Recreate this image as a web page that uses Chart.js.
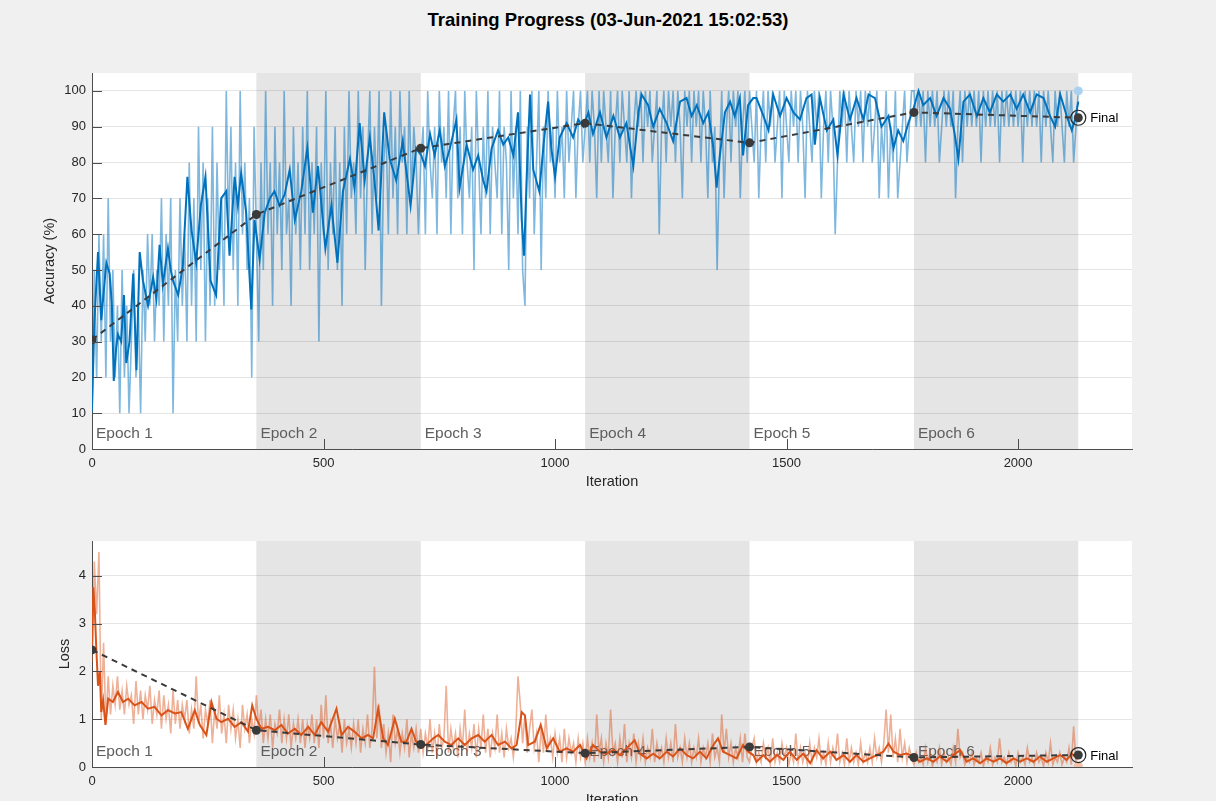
<!DOCTYPE html>
<html>
<head>
<meta charset="utf-8">
<script src="https://cdn.jsdelivr.net/npm/chart.js@4.4.0/dist/chart.umd.min.js"></script>
<style>
  html, body { margin: 0; padding: 0; background: #f0f0f0; overflow: hidden; }
  body { width: 1216px; height: 801px; position: relative; font-family: "Liberation Sans", Arial, sans-serif; }
  #titulo { position: absolute; top: 9px; left: 0; width: 1216px; text-align: center; font-weight: bold; font-size: 18.5px; color: #000; }
  .quadro { position: absolute; left: 0; }
  #quadroAcc { top: 0; }
  #quadroLoss { top: 500px; }
</style>
</head>
<body>
<div id="titulo">Training Progress (03-Jun-2021 15:02:53)</div>
<div class="quadro" id="quadroAcc"><canvas id="graficoAcuracia" width="1216" height="500"></canvas></div>
<div class="quadro" id="quadroLoss"><canvas id="graficoPerda" width="1216" height="309"></canvas></div>

<script>
// dados
const passoBruto = 5; // um valor bruto a cada 5 iteracoes
const epocasNomes = ['Epoch 1', 'Epoch 2', 'Epoch 3', 'Epoch 4', 'Epoch 5', 'Epoch 6'];
const valIter = [0, 355, 710, 1065, 1420, 1775, 2130]; // inicio das epocas + final
const valAcc = [30.5, 65.5, 84, 91, 85.5, 94, 92.5];
const valLoss = [2.45, 0.77, 0.47, 0.29, 0.42, 0.2, 0.25];

const xTicks = [0, 500, 1000, 1500, 2000];
const accTicks = [0, 10, 20, 30, 40, 50, 60, 70, 80, 90, 100];
const lossTicks = [0, 1, 2, 3, 4];

// acuracia bruta (mini-batch), por epoca
const accBruta = [
  10, 50, 20, 60, 30, 60, 20, 70, 30, 50, 20, 40, 10, 50, 20, 40, 10, 30, 50, 20, 40, 10, 50, 30, 60, 40, 60, 30, 50, 40, 70, 30, 60, 40, 70, 10, 50, 30, 70, 40, 60, 30, 80, 40, 70, 30, 90, 50, 80, 30, 70, 40, 90, 40, 80, 50, 70, 40, 100, 60, 90, 50, 80, 40, 100, 60, 80, 50, 70, 20, 90,
  60, 30, 80, 50, 100, 60, 80, 40, 90, 60, 80, 50, 100, 60, 70, 40, 90, 60, 80, 50, 90, 60, 100, 50, 80, 60, 90, 30, 80, 60, 100, 50, 80, 60, 90, 50, 80, 40, 90, 60, 100, 70, 80, 60, 100, 70, 90, 50, 80, 100, 60, 90, 70, 100, 40, 80, 90, 60, 100, 70, 90, 60, 100, 80, 90, 60, 100, 70, 90, 80, 60,
  80, 90, 60, 100, 80, 70, 90, 60, 100, 80, 90, 70, 100, 60, 90, 100, 70, 90, 60, 100, 80, 70, 90, 50, 100, 80, 60, 90, 70, 100, 60, 90, 80, 70, 100, 60, 90, 80, 50, 100, 70, 90, 60, 100, 50, 40, 90, 70, 100, 60, 80, 100, 50, 90, 70, 100, 80, 90, 70, 100, 80, 90, 70, 100, 80, 90, 100, 70, 90, 100, 80,
  90, 100, 80, 100, 90, 70, 100, 80, 100, 90, 80, 100, 70, 90, 100, 80, 100, 90, 80, 100, 70, 90, 100, 90, 100, 80, 100, 90, 100, 80, 90, 100, 60, 90, 100, 80, 100, 90, 100, 80, 100, 90, 70, 100, 90, 100, 80, 100, 90, 100, 80, 100, 90, 70, 100, 80, 90, 50, 80, 100, 70, 90, 100, 80, 100, 90, 100, 70, 90, 100, 80,
  100, 90, 80, 100, 70, 90, 100, 80, 100, 90, 100, 80, 90, 100, 70, 100, 90, 80, 100, 90, 100, 80, 100, 90, 70, 100, 90, 80, 100, 90, 100, 70, 90, 100, 80, 100, 90, 60, 80, 100, 90, 100, 80, 100, 90, 80, 100, 90, 100, 80, 100, 90, 100, 80, 90, 100, 70, 90, 80, 100, 70, 90, 80, 100, 70, 80, 90, 100, 80, 90, 100,
  100, 90, 100, 90, 100, 80, 100, 90, 100, 90, 100, 80, 90, 100, 90, 100, 90, 100, 70, 90, 100, 80, 100, 90, 100, 90, 100, 90, 100, 80, 100, 90, 100, 90, 100, 90, 100, 80, 100, 90, 100, 90, 100, 90, 100, 90, 100, 80, 100, 90, 100, 90, 100, 90, 100, 80, 100, 90, 100, 90, 80, 100, 90, 100, 90, 80, 100, 90, 100, 80, 90,
  100
];

// perda bruta, por epoca
const lossBruta = [
  2.2, 4.3, 3.2, 4.5, 1.0, 2.6, 0.9, 1.9, 1.1, 1.7, 1.3, 1.9, 1.2, 1.6, 1.1, 1.7, 1.3, 1.5, 0.9, 1.8, 1.1, 1.6, 1.0, 1.5, 1.2, 1.7, 0.9, 1.4, 1.1, 1.6, 0.8, 1.5, 1.0, 1.3, 0.7, 1.6, 0.9, 1.4, 0.8, 1.3, 1.0, 1.4, 0.7, 1.2, 0.8, 1.9, 0.9, 1.3, 0.6, 1.2, 0.9, 1.4, 0.5, 1.2, 0.8, 1.5, 0.7, 1.1, 0.5, 1.3, 0.8, 1.2, 0.6, 1.0, 0.4, 1.3, 0.8, 1.1, 0.5, 1.0, 0.7,
  1.5, 0.8, 1.2, 0.5, 1.0, 0.6, 1.1, 0.4, 0.9, 0.7, 1.2, 0.5, 1.0, 0.6, 1.1, 0.4, 0.9, 0.6, 1.0, 0.5, 1.0, 0.4, 0.9, 0.6, 1.1, 0.5, 1.0, 0.4, 1.3, 0.6, 1.5, 0.5, 0.9, 0.4, 1.0, 0.6, 0.9, 0.3, 1.0, 0.5, 0.8, 0.4, 0.9, 0.5, 1.0, 0.3, 0.8, 0.5, 1.1, 0.4, 0.8, 2.1, 0.6, 1.3, 0.4, 0.9, 0.3, 0.7, 0.1, 1.1, 0.5, 0.8, 0.3, 0.7, 0.4, 1.0, 0.2, 0.7, 0.4, 0.8, 0.3,
  0.8, 0.3, 0.7, 0.4, 1.0, 0.3, 0.7, 0.2, 0.9, 0.4, 0.6, 1.7, 0.3, 0.8, 0.4, 0.7, 0.2, 0.8, 0.4, 1.2, 0.3, 0.7, 0.4, 0.9, 0.2, 0.8, 0.4, 1.1, 0.3, 0.8, 0.2, 0.7, 0.4, 1.1, 0.3, 0.7, 0.2, 0.8, 0.4, 0.6, 0.2, 0.7, 1.9, 1.3, 0.5, 1.1, 0.3, 0.8, 1.2, 0.4, 0.7, 0.1, 0.8, 0.3, 1.1, 0.4, 0.6, 0.2, 0.7, 0.3, 0.6, 0.1, 0.8, 0.2, 0.6, 0.3, 0.5, 0.1, 0.6, 0.2, 0.5,
  0.1, 0.6, 0.2, 0.5, 0.1, 1.1, 0.3, 0.6, 0.1, 0.5, 0.2, 1.2, 0.3, 0.5, 0.1, 0.6, 0.2, 0.9, 0.1, 0.5, 0.2, 0.7, 0.1, 0.5, 0.2, 0.6, 0.1, 0.4, 0.2, 0.8, 0.1, 0.5, 0.2, 0.4, 0.1, 0.6, 0.2, 0.5, 0.1, 0.9, 0.2, 0.4, 0.1, 0.6, 0.2, 0.5, 0.1, 0.4, 0.2, 0.6, 0.1, 0.4, 0.2, 0.5, 0.1, 0.7, 0.2, 0.4, 0.1, 1.1, 0.3, 0.8, 0.2, 0.5, 0.1, 0.4, 0.2, 0.6, 0.1, 0.7, 0.2,
  0.1, 0.4, 0.6, 0.1, 0.3, 0.1, 0.5, 0.2, 0.4, 0.05, 0.6, 0.1, 0.3, 0.1, 0.5, 0.2, 0.4, 0.05, 0.3, 0.1, 0.7, 0.1, 0.4, 0.1, 0.3, 0.05, 0.5, 0.1, 0.4, 0.2, 0.6, 0.1, 0.3, 0.05, 0.5, 0.1, 0.4, 0.2, 0.7, 0.1, 0.3, 0.05, 0.6, 0.1, 0.4, 0.1, 0.3, 0.05, 0.5, 0.1, 0.3, 0.1, 0.4, 0.1, 0.6, 0.2, 0.4, 0.1, 0.5, 1.2, 0.3, 1.1, 0.2, 0.6, 0.1, 0.8, 0.2, 0.5, 0.1, 0.4, 0.2,
  0.05, 0.3, 0.1, 0.2, 0.05, 0.4, 0.1, 0.3, 0.02, 0.2, 0.1, 0.4, 0.05, 0.3, 0.1, 0.2, 0.05, 0.4, 0.1, 0.8, 0.2, 0.3, 0.05, 0.2, 0.1, 0.3, 0.05, 0.2, 0.1, 0.3, 0.02, 0.2, 0.1, 0.4, 0.05, 0.2, 0.1, 0.6, 0.1, 0.2, 0.05, 0.3, 0.1, 0.2, 0.02, 0.3, 0.1, 0.2, 0.05, 0.4, 0.1, 0.2, 0.05, 0.3, 0.1, 0.2, 0.02, 0.3, 0.1, 0.5, 0.05, 0.2, 0.1, 0.3, 0.05, 0.2, 0.1, 0.4, 0.05, 0.85, 0.1,
  0.02
];

// acuracia suavizada (iteracao, valor)
const accSuaveIter = [
  0, 5, 13, 20, 26, 31, 38, 43, 47, 52,
  56, 63, 69, 74, 81, 89, 96, 103, 110, 121,
  132, 139, 146, 153, 164, 170, 175, 186, 196, 206,
  215, 225, 235, 245, 256, 268, 279, 290, 297, 308,
  315, 322, 333, 344, 351, 362, 373, 384, 394, 405,
  416, 427, 438, 452, 465, 477, 488, 504, 517, 530,
  542, 557, 567, 578, 589, 600, 610, 619, 631, 643,
  657, 671, 688, 700, 711, 719, 730, 740, 751, 762,
  773, 787, 794, 809, 823, 834, 845, 852, 863, 877,
  888, 899, 910, 920, 928, 933, 940, 946, 953, 966,
  976, 985, 992, 1000, 1010, 1025, 1039, 1050, 1061, 1072,
  1082, 1097, 1111, 1126, 1140, 1154, 1169, 1180, 1187, 1201,
  1212, 1226, 1241, 1255, 1270, 1284, 1295, 1306, 1320, 1331,
  1342, 1349, 1356, 1367, 1378, 1388, 1399, 1406, 1417, 1428,
  1435, 1450, 1461, 1471, 1486, 1500, 1515, 1529, 1543, 1554,
  1561, 1572, 1587, 1601, 1610, 1623, 1637, 1651, 1666, 1677,
  1691, 1705, 1720, 1731, 1741, 1752, 1763, 1774, 1785, 1795,
  1810, 1824, 1839, 1853, 1863, 1871, 1882, 1896, 1911, 1925,
  1939, 1954, 1968, 1983, 1997, 2011, 2026, 2040, 2055, 2069,
  2080, 2091, 2105, 2116, 2123, 2130
];
const accSuaveVal = [
  11, 35, 55, 36, 45, 52, 49, 40, 19, 28,
  32, 30, 43, 24, 30, 49, 22, 55, 47, 40,
  48, 42, 57, 46, 56, 50, 47, 43, 51, 76,
  61, 52, 68, 76, 47, 43, 70, 72, 54, 76,
  68, 77, 66, 39, 64, 53, 66, 70, 72, 68,
  71, 78, 64, 72, 84, 66, 79, 56, 68, 52,
  72, 81, 73, 91, 75, 87, 75, 61, 94, 81,
  75, 86, 68, 84, 82, 79, 88, 82, 89, 79,
  84, 92, 73, 85, 78, 82, 75, 72, 84, 89,
  85, 87, 82, 94, 64, 54, 80, 99, 78, 72,
  86, 97, 84, 76, 87, 91, 87, 92, 90, 94,
  88, 94, 87, 93, 87, 91, 79, 94, 99, 96,
  90, 95, 91, 86, 97, 98, 93, 96, 91, 94,
  84, 73, 82, 94, 97, 93, 98, 82, 96, 98,
  98, 93, 89, 99, 93, 98, 94, 92, 98, 99,
  85, 98, 89, 92, 82, 99, 92, 98, 92, 99,
  98, 90, 93, 84, 89, 86, 91, 95, 100, 96,
  98, 93, 98, 95, 88, 81, 97, 99, 93, 98,
  94, 99, 97, 99, 95, 99, 94, 99, 98, 93,
  90, 99, 93, 89, 92, 97
];

// perda suavizada (iteracao, valor)
const lossSuaveIter = [
  0, 3, 6, 9, 13, 17, 20, 24, 29, 35,
  45, 56, 67, 78, 92, 107, 121, 135, 150, 164,
  179, 193, 207, 222, 233, 247, 258, 269, 279, 294,
  308, 323, 337, 346, 355, 366, 380, 395, 409, 423,
  438, 452, 467, 481, 495, 510, 528, 539, 553, 567,
  582, 596, 607, 618, 629, 639, 654, 668, 679, 690,
  700, 711, 722, 737, 748, 762, 776, 791, 805, 820,
  834, 848, 863, 877, 892, 906, 917, 928, 935, 942,
  956, 969, 982, 996, 1010, 1025, 1039, 1054, 1068, 1082,
  1097, 1111, 1126, 1140, 1154, 1172, 1183, 1198, 1212, 1226,
  1241, 1255, 1270, 1284, 1298, 1313, 1327, 1342, 1352, 1363,
  1378, 1392, 1406, 1417, 1428, 1435, 1450, 1464, 1479, 1493,
  1507, 1522, 1536, 1551, 1565, 1579, 1594, 1608, 1623, 1637,
  1651, 1666, 1680, 1695, 1709, 1720, 1731, 1745, 1759, 1774,
  1788, 1803, 1817, 1831, 1846, 1860, 1875, 1889, 1903, 1918,
  1932, 1947, 1961, 1975, 1990, 2004, 2019, 2033, 2047, 2062,
  2076, 2091, 2105, 2116, 2127, 2130
];
const lossSuaveVal = [
  2.4, 3.76, 3.3, 2.54, 1.7, 2.0, 1.15, 1.4, 0.88, 1.43,
  1.36, 1.57, 1.36, 1.43, 1.29, 1.36, 1.22, 1.26, 1.08, 1.19,
  1.12, 1.15, 0.8, 1.19, 0.88, 0.67, 1.36, 1.01, 0.94, 1.01,
  0.84, 0.94, 0.74, 1.29, 1.01, 0.8, 0.84, 0.77, 0.88, 0.7,
  0.8, 0.67, 0.84, 0.67, 0.94, 0.74, 1.22, 0.67, 0.84, 0.74,
  0.6, 0.67, 0.6, 1.22, 0.6, 0.46, 1.01, 0.53, 0.53, 0.8,
  0.53, 0.46, 0.46, 0.6, 0.67, 0.53, 0.46, 0.6, 0.46, 0.6,
  0.67, 0.53, 0.67, 0.46, 0.53, 0.39, 0.46, 1.15, 1.08, 0.46,
  0.53, 0.88, 0.39, 0.6, 0.32, 0.39, 0.32, 0.46, 0.18, 0.46,
  0.32, 0.28, 0.35, 0.25, 0.39, 0.56, 0.28, 0.18, 0.28, 0.18,
  0.32, 0.22, 0.39, 0.25, 0.18, 0.32, 0.18, 0.46, 0.6, 0.32,
  0.25, 0.18, 0.46, 0.32, 0.25, 0.11, 0.25, 0.11, 0.25, 0.15,
  0.32, 0.15, 0.28, 0.08, 0.35, 0.18, 0.32, 0.15, 0.25, 0.11,
  0.25, 0.11, 0.18, 0.25, 0.32, 0.49, 0.32, 0.25, 0.28, 0.22,
  0.11, 0.18, 0.11, 0.22, 0.11, 0.25, 0.35, 0.11, 0.18, 0.08,
  0.18, 0.11, 0.18, 0.08, 0.18, 0.11, 0.18, 0.11, 0.22, 0.11,
  0.18, 0.25, 0.15, 0.28, 0.18, 0.2
];

const fonte = { family: '"Liberation Sans", Arial, sans-serif', size: 13 };
const fonteTitulo = { family: '"Liberation Sans", Arial, sans-serif', size: 14.5 };
const corTexto = '#262626';
const corEixo = '#4d4d4d';

// fundo branco, faixas das epocas pares, rotulos, marcas de escala e texto "Final"
const pluginEpocas = {
  id: 'pluginEpocas',
  beforeDraw(chart) {
    const { ctx, chartArea: a, scales: { x } } = chart;
    ctx.save();
    ctx.fillStyle = '#ffffff';
    ctx.fillRect(a.left, a.top, a.right - a.left, a.bottom - a.top);
    ctx.fillStyle = '#e5e5e5';
    epocasNomes.forEach((_, i) => {
      if (i % 2 === 1) {
        const x0 = x.getPixelForValue(valIter[i]);
        const x1 = x.getPixelForValue(valIter[i + 1]);
        ctx.fillRect(x0, a.top, x1 - x0, a.bottom - a.top);
      }
    });
    ctx.restore();
  },
  beforeDatasetsDraw(chart) {
    const { ctx, chartArea: a, scales: { x } } = chart;
    ctx.save();
    ctx.fillStyle = '#5e5e5e';
    ctx.font = '15.5px "Liberation Sans", Arial, sans-serif';
    ctx.textBaseline = 'middle';
    epocasNomes.forEach((nome, i) => {
      ctx.fillText(nome, x.getPixelForValue(valIter[i]) + 4, a.bottom - 15);
    });
    ctx.restore();
  },
  afterDatasetsDraw(chart) {
    const { ctx, chartArea: a, scales: { x, y } } = chart;
    ctx.save();
    ctx.strokeStyle = corEixo;
    ctx.lineWidth = 1;
    ctx.beginPath();
    y.ticks.forEach(t => {
      const py = Math.round(y.getPixelForValue(t.value)) + 0.5;
      ctx.moveTo(a.left, py);
      ctx.lineTo(a.left + 10, py);
    });
    x.ticks.forEach(t => {
      const px = Math.round(x.getPixelForValue(t.value)) + 0.5;
      ctx.moveTo(px, a.bottom);
      ctx.lineTo(px, a.bottom - 10);
    });
    ctx.stroke();
    const ultimo = chart.data.datasets[0].data[valIter.length - 1];
    ctx.fillStyle = '#000';
    ctx.font = '13px "Liberation Sans", Arial, sans-serif';
    ctx.textBaseline = 'middle';
    ctx.fillText('Final', x.getPixelForValue(ultimo.x) + 12, y.getPixelForValue(ultimo.y) + 1);
    ctx.restore();
  }
};

function criarGrafico(idCanvas, cfg) {
  const ctx = document.getElementById(idCanvas).getContext('2d');
  const pontosVal = valIter.map((it, i) => ({ x: it, y: cfg.val[i] }));
  const ultimo = pontosVal[pontosVal.length - 1];
  const ultimoBruto = cfg.bruta.length - 1;

  return new Chart(ctx, {
    type: 'line',
    data: {
      datasets: [
        {
          label: 'Validation',
          data: pontosVal,
          borderColor: '#3a3a3a',
          borderWidth: 2,
          borderDash: [6, 5],
          pointRadius: 4.5,
          pointBackgroundColor: '#3a3a3a',
          pointBorderWidth: 0,
        },
        {
          label: 'Final',
          data: [ultimo],
          showLine: false,
          pointRadius: 7.5,
          pointBackgroundColor: 'rgba(0,0,0,0)',
          pointBorderColor: '#262626',
          pointBorderWidth: 1.2,
        },
        {
          label: 'Smoothed',
          data: cfg.suaveIter.map((it, i) => ({ x: it, y: cfg.suaveVal[i] })),
          borderColor: cfg.cor,
          borderWidth: 2,
          pointRadius: 0,
        },
        {
          label: 'Raw',
          data: cfg.bruta.map((v, i) => ({ x: i * passoBruto, y: v })),
          borderColor: cfg.corBruta,
          borderWidth: 1.6,
          pointRadius: c => (c.dataIndex === ultimoBruto ? 4.5 : 0),
          pointBackgroundColor: cfg.corPontoFinal,
          pointBorderWidth: 0,
        },
      ]
    },
    options: {
      responsive: false,
      animation: false,
      devicePixelRatio: 1,
      layout: { padding: cfg.padding },
      elements: { line: { tension: 0 } },
      plugins: { legend: { display: false }, tooltip: { enabled: false } },
      scales: {
        x: {
          type: 'linear',
          min: 0,
          max: 2246,
          afterBuildTicks: s => { s.ticks = xTicks.map(v => ({ value: v })); },
          afterFit: s => { s.height = 42; },
          grid: { display: false, drawTicks: false },
          border: { display: true, color: corEixo, width: 1 },
          ticks: { padding: 7, color: corTexto, font: fonte, maxRotation: 0, autoSkip: false, callback: v => String(v) },
          title: { display: true, text: 'Iteration', color: corTexto, font: fonteTitulo, padding: { top: 0, bottom: 0 } }
        },
        y: {
          type: 'linear',
          min: 0,
          max: cfg.yMax,
          afterBuildTicks: s => { s.ticks = cfg.ticksY.map(v => ({ value: v })); },
          afterFit: s => { s.width = cfg.larguraY; },
          grid: { color: 'rgba(38,38,38,0.12)', drawTicks: false },
          border: { display: true, color: corEixo, width: 1 },
          ticks: { padding: 6, color: corTexto, font: fonte, callback: v => String(v) },
          title: { display: true, text: cfg.tituloY, color: corTexto, font: fonteTitulo, padding: { top: 3, bottom: 0 } }
        }
      }
    },
    plugins: [pluginEpocas]
  });
}

criarGrafico('graficoAcuracia', {
  val: valAcc,
  bruta: accBruta,
  suaveIter: accSuaveIter,
  suaveVal: accSuaveVal,
  cor: '#0072bd',
  corBruta: 'rgba(0,114,189,0.5)',
  corPontoFinal: '#a9d1f0',
  yMax: 105,
  ticksY: accTicks,
  larguraY: 54,
  tituloY: 'Accuracy (%)',
  padding: { left: 38, right: 84, top: 73, bottom: 9 }
});

criarGrafico('graficoPerda', {
  val: valLoss,
  bruta: lossBruta,
  suaveIter: lossSuaveIter,
  suaveVal: lossSuaveVal,
  cor: '#d95319',
  corBruta: 'rgba(217,83,25,0.45)',
  corPontoFinal: '#f4c2ab',
  yMax: 4.73,
  ticksY: lossTicks,
  larguraY: 39,
  tituloY: 'Loss',
  padding: { left: 53, right: 84, top: 41, bottom: 0 }
});
</script>
</body>
</html>
